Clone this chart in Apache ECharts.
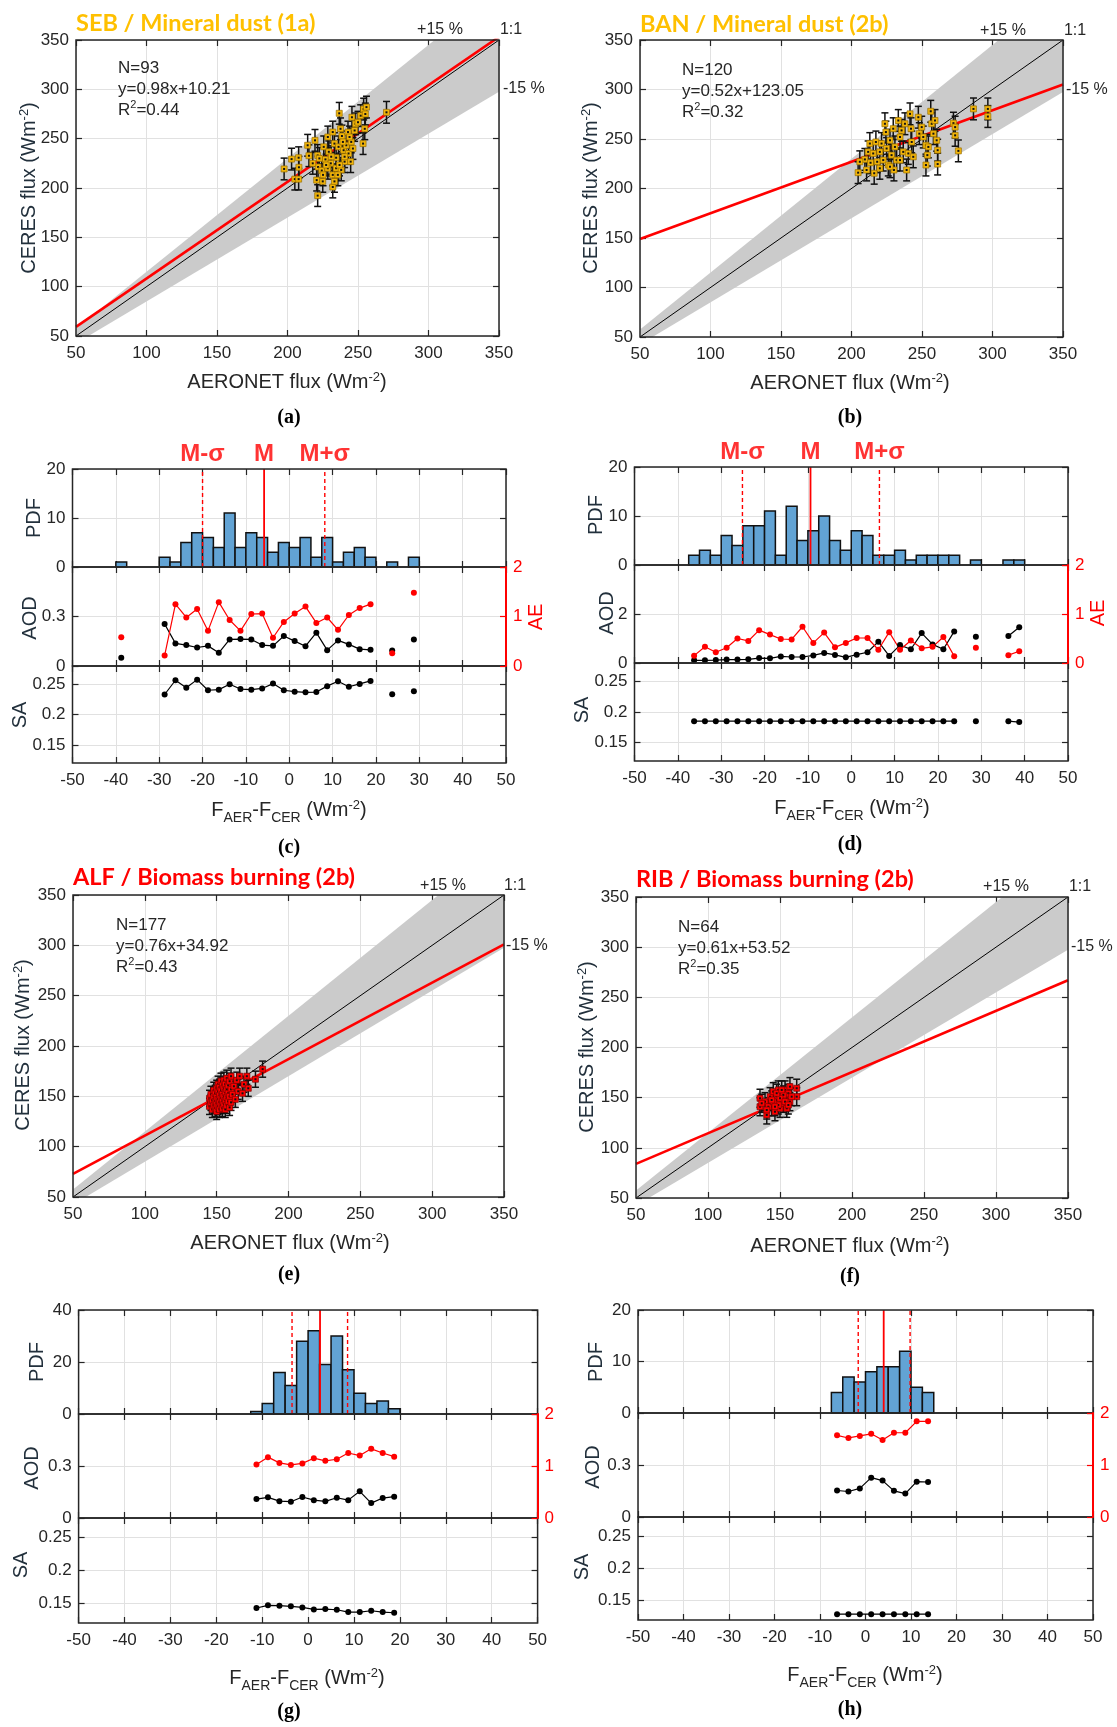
<!DOCTYPE html>
<html>
<head>
<meta charset="utf-8">
<script src="https://cdn.jsdelivr.net/npm/echarts@6/dist/echarts.min.js"></script>
<style>
html, body { margin: 0; padding: 0; background: #fff; }
#chart { width: 1117px; height: 1727px; }
</style>
</head>
<body>
<div id="chart"></div>
<script>
// ---------- data ----------
var fluxRange = [50, 350, 50];
var diffRange = [-50, 50, 10];
var aeRange = [0, 2, 1];
var saRange = [0.12, 0.28];
var saTicks = [0.15, 0.2, 0.25];
var bandFactors = [0.85, 1.15];
var binWidth = 2.5;
var mNames = ['M-σ', 'M', 'M+σ'];

// (a) SEB
var sebPts = [[197.6,219.3],[202.9,229.3],[207.9,230.7],[208.1,221],[205.2,209],[207.9,209],[214.3,243.3],[215.2,232.7],
  [219.5,248.3],[221.4,233],[221.7,221.3],[220.7,208],[221.4,192.3],[224.3,217.7],[225.7,241.7],[226.9,229],[228.6,251.7],
  [229.3,236.7],[230.7,225],[232.1,213.3],[232.1,201],[233.3,245],[234.5,230.7],[236.2,241.7],[236.7,275.7],[237.6,260],
  [238.6,252.7],[239.8,238.3],[240.5,226.7],[241.7,243.3],[242.9,256.7],[243.3,235],[244.8,226.7],[245.2,246.7],[245.7,271.7],
  [247.6,258.3],[248.3,265],[250,266.7],[251.9,273.3],[254,280],[255.2,275],[254.8,260],[253.6,245],[256,282],[270.2,276.7],
  [225,206.7],[222.6,230],[217.9,225],[228.6,220],[234.5,220],[238.1,218.3],[235.7,213.3],[240.5,231.7],[236.9,223.3],
  [233.3,206.7],[225.2,213.3],[231,231.7],[227.4,223.3],[244,251.7],[246.4,240],[232.1,256.7],[239.3,246.7]];
var sebFit = [0.98, 10.21];
var sebErr = 11;

// (b) BAN
var banPts = [[204.7,216],[209.5,229.4],[210.7,218.7],[211.8,237],[213,245.4],[213.5,226],[215.4,235.4],[216.1,215.4],
  [217.3,247],[218.2,227],[220.1,237],[221.3,245.4],[222.5,228.7],[224.4,257],[224.9,240.4],[226.1,223.7],[227.3,248.7],
  [228.4,233.7],[229.6,260.4],[230.1,218.7],[230.8,242],[232,228.7],[233.2,268.7],[234.4,252],[235.5,258.7],[236.7,237],
  [239.1,218.7],[240.3,235.4],[241.5,275.4],[242.2,260.4],[242.7,247],[243.8,232],[247.4,272],[248.1,255.4],[249.8,262],
  [252.8,243.7],[252.8,223.7],[253.8,233.7],[256.2,278],[256.9,265.4],[258.1,255.4],[260.4,248.7],[261.1,238.7],[261.1,224.7],
  [272.3,266],[273.5,253.7],[275.8,238],[286.5,280.4],[296.7,280.4],[296.7,272.7],[205.9,227],[227.3,222],[234.4,228.7],
  [220.1,220.4],[223.7,265.4],[237.9,265.4],[250.9,252],[254.5,242],[259.2,268.7],[273.5,262]];
var banFit = [0.52, 123.05];
var banErr = 11;

// (e) ALF
var alfPts = [[145,140],[145,148],[146,144],[146,152],[147,137],[147,146],[148,141],[148,150],[148,156],[149,138],[149,145],
  [149,153],[150,135],[150,142],[150,149],[150,158],[151,140],[151,147],[151,155],[151,162],[152,137],[152,144],[152,151],
  [152,159],[153,141],[153,148],[153,156],[153,165],[154,138],[154,145],[154,152],[154,161],[155,142],[155,150],[155,158],
  [155,166],[156,137],[156,146],[156,154],[156,162],[157,141],[157,149],[157,157],[157,168],[158,145],[158,153],[158,161],
  [159,139],[159,150],[159,165],[160,144],[160,157],[160,170],[161,152],[162,160],[163,147],[164,166],[165,155],[166,170],
  [168,153],[169,162],[171,170],[172,158],[177,167],[182,177]];
var alfFit = [0.76, 34.92];
var alfErr = 8;

// (f) RIB
var ribPts = [[136.1,149.4],[136.1,141],[139.6,146],[140.8,132.8],[143.1,151],[144.2,141],[145.3,156],[146.5,136],[147.7,147.7],
  [148.8,157.7],[150,139.4],[151.2,151],[152.3,144.4],[153.5,157.7],[154.7,149.4],[155.8,154.4],[156.9,161],[156.9,146],
  [161.6,159.4],[161.6,151],[141.9,141],[148.8,142.7],[145.3,146],[152.3,152.7],[154.7,139.4],[150,149.4],[144.2,147.7],
  [147.7,154.4],[151.2,157.7],[158.1,151],[137.3,144.4],[140.8,137.7],[146.5,141],[153.5,146],[155.8,142.7]];
var ribFit = [0.61, 53.52];
var ribErr = 9;

// (c) SEB distribution
var cCenters = [-38.75,-36.25,-33.75,-31.25,-28.75,-26.25,-23.75,-21.25,-18.75,-16.25,-13.75,-11.25,-8.75,-6.25,-3.75,-1.25,
  1.25,3.75,6.25,8.75,11.25,13.75,16.25,18.75,21.25,23.75,26.25,28.75];
var cCounts = [1,0,0,0,2,1,5,7,6,4,11,4,7,6,3,5,4,6,2,6,1,3,4,2,0,1,0,2];
var cAod = [0.05,null,null,null,0.255,0.137,0.127,0.112,0.122,0.08,0.161,0.163,0.161,0.127,0.122,0.182,0.151,0.12,0.202,
  0.096,0.155,0.131,0.102,0.098,null,0.094,null,0.161];
var cAe = [0.58,null,null,null,0.21,1.25,0.98,1.15,0.71,1.29,0.93,0.71,1.05,1.06,0.57,0.89,1.06,1.2,0.87,0.98,0.73,1.03,
  1.17,1.25,null,0.26,null,1.48];
var cSa = [null,null,null,null,0.233,0.2565,0.244,0.2575,0.240,0.241,0.250,0.242,0.241,0.243,0.251,0.240,0.2376,0.2366,
  0.237,0.2468,0.2548,0.2457,0.2505,0.2554,null,0.2333,null,0.2382];
var cStats = [-20, -5.8, 8.2];

// (d) BAN distribution
var dCenters = [-36.25,-33.75,-31.25,-28.75,-26.25,-23.75,-21.25,-18.75,-16.25,-13.75,-11.25,-8.75,-6.25,-3.75,-1.25,1.25,
  3.75,6.25,8.75,11.25,13.75,16.25,18.75,21.25,23.75,26.25,28.75,31.25,33.75,36.25,38.75];
var dCounts = [2,3,2,6,4,8,8,11,2,12,5,7,10,5,3,7,6,2,2,3,1,2,2,2,2,0,1,0,0,1,1];
var dAod = [0.11,0.11,0.12,0.14,0.14,0.15,0.2,0.19,0.27,0.245,0.245,0.31,0.41,0.33,0.23,0.34,0.44,0.87,0.29,0.73,0.56,
  1.22,0.76,0.56,1.29,null,1.07,null,null,1.1,1.46];
var dAe = [0.15,0.33,0.22,0.31,0.5,0.45,0.67,0.58,0.49,0.48,0.74,0.41,0.62,0.32,0.41,0.51,0.51,0.27,0.63,0.27,0.46,0.3,
  0.33,0.53,0.14,null,0.31,null,null,0.16,0.24];
var dSa = [0.185,0.185,0.185,0.185,0.185,0.185,0.185,0.185,0.185,0.185,0.185,0.185,0.185,0.185,0.185,0.185,0.185,0.185,
  0.185,0.185,0.185,0.185,0.185,0.185,0.185,null,0.185,null,null,0.185,0.1835];
var dStats = [-25.1, -9.4, 6.5];

// (g) ALF distribution
var gCenters = [-11.25,-8.75,-6.25,-3.75,-1.25,1.25,3.75,6.25,8.75,11.25,13.75,16.25,18.75];
var gCounts = [1,4,16,11,28,32,19,30,17,8,4,5,2];
var gAod = [0.109,0.119,0.097,0.094,0.121,0.103,0.096,0.117,0.103,0.154,0.086,0.115,0.123];
var gAe = [1.03,1.17,1.06,1.02,1.05,1.15,1.10,1.13,1.25,1.2,1.33,1.25,1.18];
var gSa = [0.1428,0.1469,0.1464,0.1454,0.1438,0.1407,0.1412,0.1402,0.1366,0.1366,0.1387,0.1366,0.1356];
var gStats = [-3.5, 2.6, 8.6];

// (h) RIB distribution
var hCenters = [-6.25,-3.75,-1.25,1.25,3.75,6.25,8.75,11.25,13.75];
var hCounts = [4,7,6,8,9,9,12,5,4];
var hAod = [0.153,0.147,0.165,0.227,0.21,0.151,0.135,0.204,0.202];
var hAe = [1.57,1.52,1.56,1.60,1.48,1.62,1.62,1.84,1.84];
var hSa = [0.129,0.129,0.129,0.129,0.129,0.129,0.129,0.129,0.129];
var hStats = [-1.6, 4.0, 9.8];

// ---------- styling ----------
var SANS = '"Liberation Sans", Arial, sans-serif';
var AXIS_COLOR = '#262626';
var NAME_COLOR = '#22303c';
var GRID_COLOR = '#e1e1e1';
var BAND_COLOR = '#cbcbcb';
var BAR_COLOR = '#62a3d4';
var RED = '#ff0000';
var ORANGE = '#ffc000';

var grids = [], xAxes = [], yAxes = [], series = [], graphics = [];

function addGrid(r) {
	grids.push({ left: r[0], top: r[1], width: r[2], height: r[3], show: true, z: 10,
		backgroundColor: 'transparent', borderColor: AXIS_COLOR, borderWidth: 1.5 });
	return grids.length - 1;
}

function xAx(g, pos, r, labels, split) {
	xAxes.push({
		gridIndex: g, type: 'value', position: pos, min: r[0], max: r[1], interval: r[2],
		axisLine: { show: false, onZero: false },
		axisTick: { inside: true, length: 6, lineStyle: { color: AXIS_COLOR, width: 1.2 } },
		axisLabel: { show: labels, color: AXIS_COLOR, fontSize: 17, fontFamily: SANS, margin: 9 },
		splitLine: { show: split, lineStyle: { color: GRID_COLOR, width: 1 } }
	});
	return xAxes.length - 1;
}

function yAx(g, pos, r, opt) {
	opt = opt || {};
	var color = opt.color || AXIS_COLOR;
	var ax = {
		gridIndex: g, type: 'value', position: pos, min: r[0], max: r[1], z: opt.z || 0,
		axisLine: { show: !!opt.line, onZero: false, lineStyle: { color: color, width: 2 } },
		axisTick: { inside: true, length: 6, lineStyle: { color: color, width: 1.2 } },
		axisLabel: { show: opt.labels !== false, color: color, fontSize: 17, fontFamily: SANS, margin: 7 },
		splitLine: { show: !!opt.split, lineStyle: { color: GRID_COLOR, width: 1 } }
	};
	if (r[2]) ax.interval = r[2];
	if (opt.hideMax) ax.axisLabel.showMaxLabel = false;
	if (opt.ticks) {
		ax.axisTick.customValues = opt.ticks;
		ax.axisLabel.customValues = opt.ticks;
	}
	yAxes.push(ax);
	return yAxes.length - 1;
}

function txt(x, y, text, o) {
	o = o || {};
	graphics.push({
		type: 'text', x: x, y: y, rotation: o.rot || 0, z: 50, silent: true,
		style: {
			text: text, fill: o.color || AXIS_COLOR, fontSize: o.size || 17,
			fontFamily: o.font || SANS, fontWeight: o.weight || 'normal',
			align: o.align || 'left', verticalAlign: 'middle', rich: o.rich
		}
	});
}

function nameRich(color) {
	return {
		b: { fontSize: 20, fontFamily: SANS, fill: color, lineHeight: 30, verticalAlign: 'middle' },
		sup: { fontSize: 13, fontFamily: SANS, fill: color, lineHeight: 13, verticalAlign: 'top', padding: [4, 0, 0, 0] },
		sub: { fontSize: 14, fontFamily: SANS, fill: color, lineHeight: 14, verticalAlign: 'bottom' }
	};
}
var annRich = {
	b: { fontSize: 17, fontFamily: SANS, fill: AXIS_COLOR, lineHeight: 22, verticalAlign: 'middle' },
	sup: { fontSize: 11, fontFamily: SANS, fill: AXIS_COLOR, lineHeight: 11, verticalAlign: 'top' }
};
var FLUX_Y = '{b|CERES flux (Wm}{sup|-2}{b|)}';
var FLUX_X = '{b|AERONET flux (Wm}{sup|-2}{b|)}';
var DIFF_X = '{b|F}{sub|AER}{b|-F}{sub|CER}{b| (Wm}{sup|-2}{b|)}';

// ---------- render helpers ----------
function bandRender(params, api) {
	var x0 = api.value(0), x1 = api.value(1);
	var pts = [
		api.coord([x0, x0 * bandFactors[0]]), api.coord([x1, x1 * bandFactors[0]]),
		api.coord([x1, x1 * bandFactors[1]]), api.coord([x0, x0 * bandFactors[1]])
	];
	return { type: 'polygon', shape: { points: pts }, style: { fill: BAND_COLOR } };
}

function errRender(err) {
	return function(params, api) {
		var x = api.value(0), y = api.value(1);
		var top = api.coord([x, y + err]);
		var bot = api.coord([x, y - err]);
		var st = { stroke: '#111', lineWidth: 1.5 };
		return { type: 'group', children: [
			{ type: 'line', shape: { x1: top[0], y1: top[1], x2: bot[0], y2: bot[1] }, style: st },
			{ type: 'line', shape: { x1: top[0] - 3.5, y1: top[1], x2: top[0] + 3.5, y2: top[1] }, style: st },
			{ type: 'line', shape: { x1: bot[0] - 3.5, y1: bot[1], x2: bot[0] + 3.5, y2: bot[1] }, style: st }
		] };
	};
}

function markRender(color, edge) {
	return function(params, api) {
		var p = api.coord([api.value(0), api.value(1)]);
		return { type: 'group', children: [
			{ type: 'rect', shape: { x: p[0] - 3, y: p[1] - 3, width: 6, height: 6 }, style: { fill: color, stroke: edge, lineWidth: 0.7 } },
			{ type: 'rect', shape: { x: p[0] - 1, y: p[1] - 1, width: 2, height: 2 }, style: { fill: '#111' } }
		] };
	};
}

function histRender(params, api) {
	var c = api.value(0), n = api.value(1);
	if (!n) return;
	var p0 = api.coord([c - binWidth / 2, 0]);
	var p1 = api.coord([c + binWidth / 2, n]);
	return { type: 'rect', shape: { x: p0[0], y: p1[1], width: p1[0] - p0[0], height: p0[1] - p1[1] },
		style: { fill: BAR_COLOR, stroke: '#111', lineWidth: 1.5 } };
}

function pairs(xs, vs) {
	return xs.map(function(x, i) { return [x, vs[i] == null ? '-' : vs[i]]; });
}

// ---------- panels ----------
function scatterPanel(rect, pts, fit, err, color, edge) {
	var g = addGrid(rect);
	var xi = xAx(g, 'bottom', fluxRange, true, true);
	xAx(g, 'top', fluxRange, false, false);
	var yi = yAx(g, 'left', fluxRange, { split: true });
	yAx(g, 'right', fluxRange, { labels: false });
	var lo = fluxRange[0], hi = fluxRange[1];
	var base = { xAxisIndex: xi, yAxisIndex: yi, silent: true, animation: false };
	series.push(Object.assign({ type: 'custom', clip: true, z: 1, data: [[lo, hi]], renderItem: bandRender }, base));
	series.push(Object.assign({ type: 'line', z: 2, symbol: 'none', data: [[lo, lo], [hi, hi]],
		lineStyle: { color: '#000', width: 1 } }, base));
	series.push(Object.assign({ type: 'line', z: 3, symbol: 'none',
		data: [[lo, fit[0] * lo + fit[1]], [hi, fit[0] * hi + fit[1]]],
		lineStyle: { color: RED, width: 2.6 } }, base));
	series.push(Object.assign({ type: 'custom', z: 4, data: pts, renderItem: errRender(err) }, base));
	series.push(Object.assign({ type: 'custom', z: 5, data: pts, renderItem: markRender(color, edge) }, base));
}

function histPanel(c) {
	var gP = addGrid([c.left, c.tops[0], c.width, c.heights[0]]);
	var gA = addGrid([c.left, c.tops[1], c.width, c.heights[1]]);
	var gS = addGrid([c.left, c.tops[2], c.width, c.heights[2]]);
	var xP = xAx(gP, 'bottom', diffRange, false, true); xAx(gP, 'top', diffRange, false, false);
	var xA = xAx(gA, 'bottom', diffRange, false, true); xAx(gA, 'top', diffRange, false, false);
	var xS = xAx(gS, 'bottom', diffRange, true, true); xAx(gS, 'top', diffRange, false, false);
	var pdfR = [0, c.pdfMax, c.pdfMax / 2];
	var aodR = [0, c.aodMax, c.aodMax / 2];
	var yP = yAx(gP, 'left', pdfR, { split: true });
	yAx(gP, 'right', pdfR, { labels: false });
	var yA = yAx(gA, 'left', aodR, { split: true, hideMax: true });
	var yE = yAx(gA, 'right', aeRange, { color: RED, line: true, z: 12 });
	var yS = yAx(gS, 'left', saRange, { split: true, ticks: saTicks });
	yAx(gS, 'right', saRange, { labels: false, ticks: saTicks });

	series.push({ type: 'custom', xAxisIndex: xP, yAxisIndex: yP, z: 2, silent: true,
		data: pairs(c.centers, c.counts), renderItem: histRender });
	c.stats.forEach(function(v, i) {
		series.push({ type: 'line', xAxisIndex: xP, yAxisIndex: yP, z: 3, symbol: 'none', silent: true,
			data: [[v, 0], [v, c.pdfMax]],
			lineStyle: { color: RED, width: i === 1 ? 1.8 : 1.4, type: i === 1 ? 'solid' : [4, 3] } });
	});
	if (c.mLabels) {
		series.push({ type: 'scatter', xAxisIndex: xP, yAxisIndex: yP, z: 3, clip: false, silent: true,
			symbolSize: 2, itemStyle: { color: 'rgba(0,0,0,0)' },
			data: c.stats.map(function(v, i) { return { value: [v, c.pdfMax], name: mNames[i] }; }),
			label: { show: true, position: 'top', distance: 2, formatter: '{b}', color: RED,
				fontSize: 24, fontWeight: 'bold', fontFamily: SANS } });
	}
	var lineBase = { type: 'line', symbol: 'circle', symbolSize: 6, showSymbol: true, showAllSymbol: true,
		connectNulls: false, silent: true, z: 4 };
	series.push(Object.assign({ xAxisIndex: xA, yAxisIndex: yA, data: pairs(c.centers, c.aod),
		itemStyle: { color: '#000' }, lineStyle: { color: '#000', width: 1.2 } }, lineBase));
	series.push(Object.assign({ xAxisIndex: xA, yAxisIndex: yE, data: pairs(c.centers, c.ae),
		itemStyle: { color: RED }, lineStyle: { color: RED, width: 1.2 } }, lineBase));
	series.push(Object.assign({ xAxisIndex: xS, yAxisIndex: yS, data: pairs(c.centers, c.sa),
		itemStyle: { color: '#000' }, lineStyle: { color: '#000', width: 1.2 } }, lineBase));
}

scatterPanel([76, 40, 423, 296], sebPts, sebFit, sebErr, '#f2b50a', '#9a7000');
scatterPanel([640, 40, 423, 297], banPts, banFit, banErr, '#f2b50a', '#9a7000');
scatterPanel([73, 895, 431, 302], alfPts, alfFit, alfErr, RED, '#7a0000');
scatterPanel([636, 897, 432, 301], ribPts, ribFit, ribErr, RED, '#7a0000');

histPanel({ left: 72.5, width: 433.5, tops: [469, 567, 666], heights: [98, 99, 97], pdfMax: 20, aodMax: 0.6,
	centers: cCenters, counts: cCounts, aod: cAod, ae: cAe, sa: cSa, stats: cStats, mLabels: true });
histPanel({ left: 634.5, width: 433.5, tops: [467, 565, 663], heights: [98, 98, 98], pdfMax: 20, aodMax: 4,
	centers: dCenters, counts: dCounts, aod: dAod, ae: dAe, sa: dSa, stats: dStats, mLabels: true });
histPanel({ left: 78.6, width: 459, tops: [1310, 1414, 1518], heights: [104, 104, 105], pdfMax: 40, aodMax: 0.6,
	centers: gCenters, counts: gCounts, aod: gAod, ae: gAe, sa: gSa, stats: gStats, mLabels: false });
histPanel({ left: 638, width: 455, tops: [1310, 1413, 1517], heights: [103, 104, 103], pdfMax: 20, aodMax: 0.6,
	centers: hCenters, counts: hCounts, aod: hAod, ae: hAe, sa: hSa, stats: hStats, mLabels: false });

// ---------- texts ----------
var TITLE_FONT = 'Lato, "Open Sans", sans-serif';
var SERIF = '"Liberation Serif", "Times New Roman", serif';
var nr = nameRich(NAME_COLOR);
var nrDark = nameRich(AXIS_COLOR);
var nrRed = nameRich(RED);

function scatterTexts(t) {
	txt(t.title[0], t.title[1], t.title[2], { color: t.title[3], size: 23.5, weight: 'bold', font: TITLE_FONT });
	txt(t.p15[0], t.p15[1], '+15 %', { align: 'center', size: 16 });
	txt(t.one[0], t.one[1], '1:1', { align: 'center', size: 16 });
	txt(t.m15[0], t.m15[1], '-15 %', { size: 16 });
	txt(t.ann[0], t.ann[1], t.ann[3], { size: 17 });
	txt(t.ann[0], t.ann[1] + 21, t.ann[4], { size: 17 });
	txt(t.ann[0], t.ann[1] + 42, t.ann[5], { rich: annRich });
	txt(t.yName[0], t.yName[1], FLUX_Y, { align: 'center', rot: Math.PI / 2, rich: nr });
	txt(t.xName[0], t.xName[1], FLUX_X, { align: 'center', rich: nrDark });
	txt(t.tag[0], t.tag[1], t.tag[2], { align: 'center', size: 20, weight: 'bold', font: SERIF, color: '#000' });
}

scatterTexts({ title: [76, 23, 'SEB / Mineral dust (1a)', ORANGE], p15: [440, 30], one: [511, 30], m15: [503, 89],
	ann: [118, 68, 0, 'N=93', 'y=0.98x+10.21', '{b|R}{sup|2}{b|=0.44}'], yName: [29, 188], xName: [287, 382], tag: [289, 418, '(a)'] });
scatterTexts({ title: [640, 24, 'BAN / Mineral dust (2b)', ORANGE], p15: [1003, 31], one: [1075, 31], m15: [1066, 90],
	ann: [682, 70, 0, 'N=120', 'y=0.52x+123.05', '{b|R}{sup|2}{b|=0.32}'], yName: [591, 188], xName: [850, 383], tag: [850, 418, '(b)'] });
scatterTexts({ title: [73, 877, 'ALF / Biomass burning (2b)', RED], p15: [443, 886], one: [515, 886], m15: [506, 946],
	ann: [116, 925, 0, 'N=177', 'y=0.76x+34.92', '{b|R}{sup|2}{b|=0.43}'], yName: [23, 1045], xName: [290, 1243], tag: [289, 1275, '(e)'] });
scatterTexts({ title: [636, 879, 'RIB / Biomass burning (2b)', RED], p15: [1006, 887], one: [1080, 887], m15: [1071, 947],
	ann: [678, 927, 0, 'N=64', 'y=0.61x+53.52', '{b|R}{sup|2}{b|=0.35}'], yName: [587, 1047], xName: [850, 1246], tag: [850, 1277, '(f)'] });

function histTexts(t) {
	txt(t.pdf[0], t.pdf[1], '{b|PDF}', { align: 'center', rot: Math.PI / 2, rich: nr });
	txt(t.aod[0], t.aod[1], '{b|AOD}', { align: 'center', rot: Math.PI / 2, rich: nr });
	txt(t.sa[0], t.sa[1], '{b|SA}', { align: 'center', rot: Math.PI / 2, rich: nr });
	if (t.ae) txt(t.ae[0], t.ae[1], '{b|AE}', { align: 'center', rot: Math.PI / 2, rich: nrRed });
	txt(t.xName[0], t.xName[1], DIFF_X, { align: 'center', rich: nrDark });
	txt(t.tag[0], t.tag[1], t.tag[2], { align: 'center', size: 20, weight: 'bold', font: SERIF, color: '#000' });
}

histTexts({ pdf: [34, 518], aod: [30, 618], sa: [20, 715], ae: [536, 617], xName: [289, 810], tag: [289, 848, '(c)'] });
histTexts({ pdf: [596, 515], aod: [607, 613], sa: [582, 710], ae: [1098, 613], xName: [852, 808], tag: [850, 845, '(d)'] });
histTexts({ pdf: [37, 1362], aod: [32, 1468], sa: [21, 1565], xName: [307, 1678], tag: [289, 1712, '(g)'] });
histTexts({ pdf: [596, 1362], aod: [593, 1467], sa: [582, 1567], xName: [865, 1675], tag: [850, 1710, '(h)'] });

var chart = echarts.init(document.getElementById('chart'));
chart.setOption({
	animation: false,
	backgroundColor: '#ffffff',
	grid: grids,
	xAxis: xAxes,
	yAxis: yAxes,
	series: series,
	graphic: { elements: graphics }
});
</script>
</body>
</html>
